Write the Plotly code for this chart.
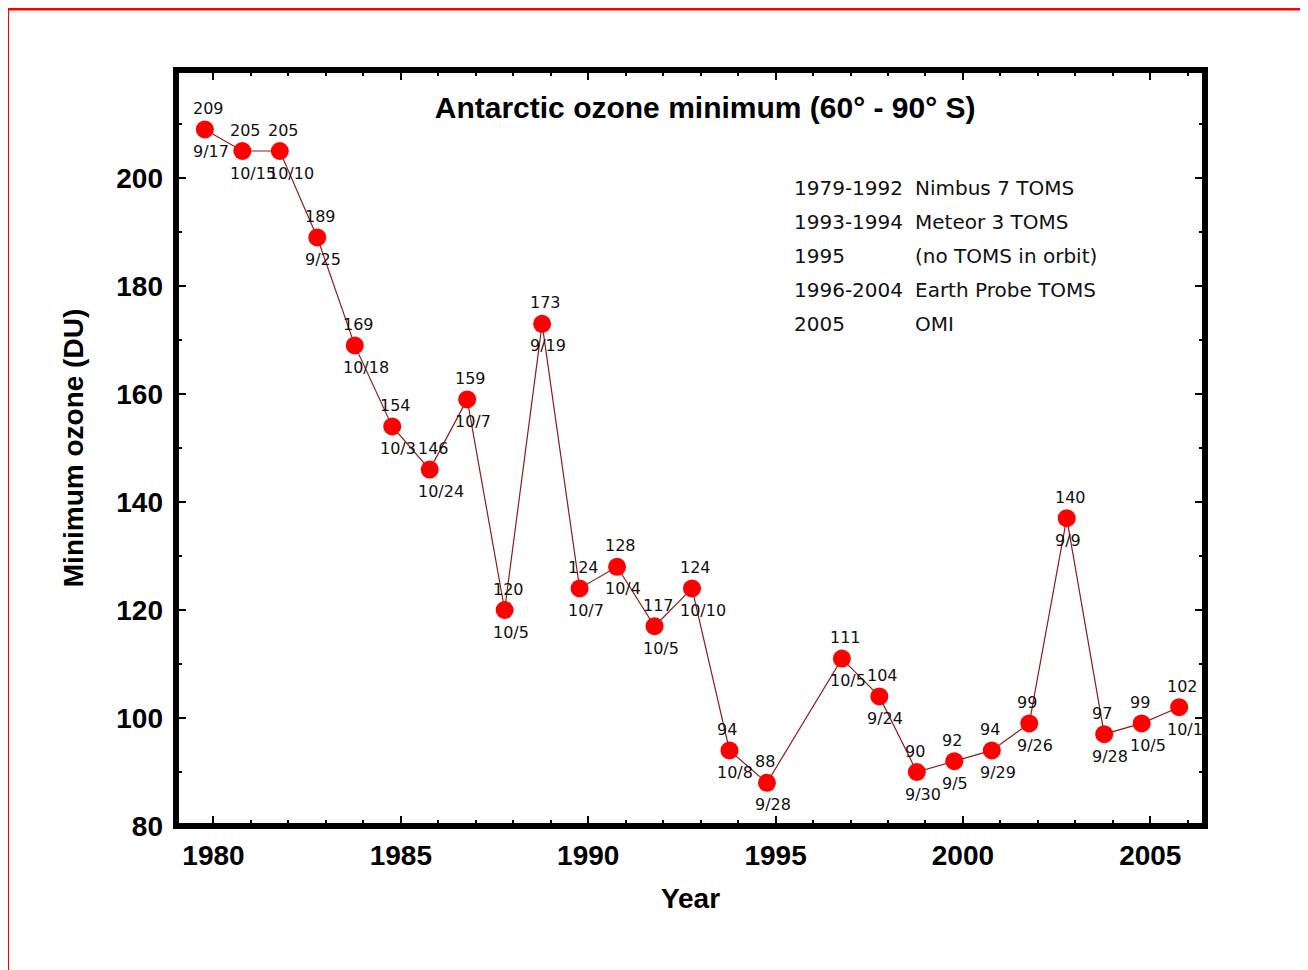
# Antarctic ozone minimum chart recreated with plotly

import plotly.graph_objects as go

# Yearly minimum ozone (no TOMS in orbit in 1995, so that year is skipped)
years = [1979, 1980, 1981, 1982, 1983, 1984, 1985, 1986, 1987, 1988, 1989, 1990, 1991,
         1992, 1993, 1994, 1996, 1997, 1998, 1999, 2000, 2001, 2002, 2003, 2004, 2005]
min_ozone = [209, 205, 205, 189, 169, 154, 146, 159, 120, 173, 124, 128, 117,
             124, 94, 88, 111, 104, 90, 92, 94, 99, 137, 97, 99, 102]
value_labels = ["209", "205", "205", "189", "169", "154", "146", "159", "120", "173", "124", "128", "117",
                "124", "94", "88", "111", "104", "90", "92", "94", "99", "140", "97", "99", "102"]
min_dates = ["9/17", "10/15", "10/10", "9/25", "10/18", "10/3", "10/24", "10/7", "10/5", "9/19", "10/7", "10/4", "10/5",
             "10/10", "10/8", "9/28", "10/5", "9/24", "9/30", "9/5", "9/29", "9/26", "9/9", "9/28", "10/5", "10/1"]

# instrument notes
note_years = ["1979-1992", "1993-1994", "1995", "1996-2004", "2005"]
note_instruments = ["Nimbus 7 TOMS", "Meteor 3 TOMS", "(no TOMS in orbit)", "Earth Probe TOMS", "OMI"]

y_ticks = [80, 100, 120, 140, 160, 180, 200]

# points sit at about early October of each year
x_pos = [y + 0.77 for y in years]

fig = go.Figure(go.Scatter(
    x=x_pos,
    y=min_ozone,
    mode="lines+markers",
    line=dict(color="#8e1c1c", width=1.2),
    marker=dict(color="#ff0000", size=18),
    showlegend=False
))

label_font = dict(family="DejaVu Sans", size=16, color="#111111")
for x, y, v, d in zip(x_pos, min_ozone, value_labels, min_dates):
    fig.add_annotation(x=x, y=y, text=v, showarrow=False, xanchor="left", yanchor="middle",
                       xshift=-14, yshift=21, font=label_font)
    fig.add_annotation(x=x, y=y, text=d, showarrow=False, xanchor="left", yanchor="middle",
                       xshift=-14, yshift=-22, font=label_font)

note_font = dict(family="DejaVu Sans", size=20, color="#111111")
for i, (yr, inst) in enumerate(zip(note_years, note_instruments)):
    fig.add_annotation(x=0.5986, y=0.844 - i * 0.045, xref="paper", yref="paper", text=yr,
                       showarrow=False, xanchor="left", yanchor="middle", font=note_font)
    fig.add_annotation(x=0.716, y=0.844 - i * 0.045, xref="paper", yref="paper", text=inst,
                       showarrow=False, xanchor="left", yanchor="middle", font=note_font)

# heavy black frame round the plot area
fig.add_shape(type="rect", xref="paper", yref="paper", x0=0, x1=1, y0=0, y1=1,
              line=dict(color="black", width=6))

# red page frame (only its left and top edges fall inside the picture)
fig.add_shape(type="rect", xref="paper", yref="paper", x0=-0.1635, x1=1.3, y0=-0.4, y1=1.0805,
              line=dict(color="#ff0000", width=2.5))

bold = dict(family="Liberation Sans", size=28, color="black", weight="bold")

fig.update_layout(
    width=1308, height=970,
    margin=dict(l=168, r=111, t=62, b=152),
    paper_bgcolor="white", plot_bgcolor="white",
    title=dict(text="Antarctic ozone minimum (60° - 90° S)", x=0.533, y=1 - 99 / 970,
               xanchor="center", yanchor="middle",
               font=dict(family="Liberation Sans", size=30, color="black", weight="bold")),
    xaxis=dict(range=[1979, 2006.46], tick0=1980, dtick=5, ticks="inside", ticklen=10, tickwidth=2,
               tickcolor="black", showgrid=False, zeroline=False, showline=False,
               mirror="ticks", tickfont=bold, ticklabelstandoff=10,
               minor=dict(dtick=1, ticks="inside", ticklen=6, tickwidth=1.5, tickcolor="black"),
               title=dict(text="Year", font=bold, standoff=18)),
    yaxis=dict(range=[80, 220], tickvals=y_ticks, ticks="inside", ticklen=10, tickwidth=2,
               tickcolor="black", showgrid=False, zeroline=False, showline=False,
               mirror="ticks", tickfont=bold, ticklabelstandoff=12,
               minor=dict(tick0=80, dtick=10, ticks="inside", ticklen=6, tickwidth=1.5, tickcolor="black"),
               title=dict(text="Minimum ozone (DU)", standoff=24, font=bold)),
)

fig.write_html("out.html")
